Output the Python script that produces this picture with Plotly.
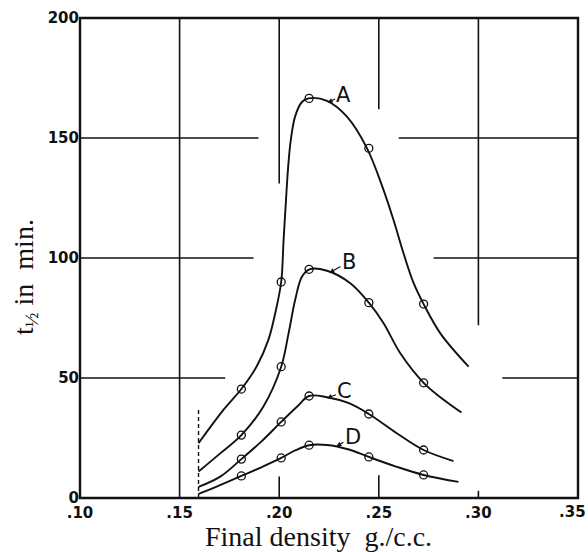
import plotly.graph_objects as go

# ---- data ----
density_pts = [0.181, 0.201, 0.215, 0.245, 0.2725]
A_pts = [45.4, 90.0, 166.5, 145.7, 80.8]
B_pts = [26.2, 54.7, 95.3, 81.4, 48.0]
C_pts = [16.2, 31.7, 42.5, 35.0, 20.0]
D_pts = [9.2, 16.7, 22.0, 17.1, 9.6]

# traced curves (incl. start/end)
A_curve_x = [0.1595, 0.172, 0.181, 0.1888, 0.1946, 0.198, 0.201, 0.2022, 0.2034, 0.2045, 0.2058, 0.208, 0.2114, 0.2147,
             0.224, 0.234, 0.2441, 0.2524, 0.2574, 0.2624, 0.2675, 0.2725, 0.2809, 0.2951]
A_curve_y = [22.8, 36.7, 45.4, 55.0, 66.0, 77.0, 90.0, 107.5, 124.0, 138.0, 149.0, 159.0, 165.0, 166.5,
             165.5, 158.9, 145.7, 128.3, 115.8, 102.0, 89.5, 80.8, 68.6, 54.7]
B_curve_x = [0.1595, 0.1704, 0.181, 0.192, 0.201, 0.2047, 0.208, 0.2114, 0.2152, 0.224, 0.2357, 0.245, 0.2524,
             0.2608, 0.2725, 0.2809, 0.2915]
B_curve_y = [11.0, 18.6, 26.2, 38.0, 54.7, 68.6, 82.5, 92.2, 95.3, 94.7, 89.5, 81.4, 72.8, 60.3, 48.0, 42.0, 35.6]
C_curve_x = [0.1595, 0.1704, 0.181, 0.191, 0.201, 0.2089, 0.215, 0.224, 0.235, 0.245, 0.259, 0.2725, 0.2875]
C_curve_y = [4.6, 8.9, 16.2, 23.5, 31.7, 38.0, 42.5, 42.0, 39.5, 35.0, 27.0, 20.0, 15.4]
D_curve_x = [0.1595, 0.170, 0.181, 0.191, 0.201, 0.208, 0.215, 0.224, 0.235, 0.245, 0.259, 0.2725, 0.290]
D_curve_y = [1.7, 5.3, 9.2, 12.8, 16.7, 19.8, 22.0, 22.1, 20.2, 17.1, 13.0, 9.6, 6.7]

curve_names = ["A", "B", "C", "D"]
label_text_pos = [(0.2325, 168.0), (0.2350, 98.5), (0.2330, 44.5), (0.2370, 25.5)]
label_tip_pos = [(0.2243, 164.8), (0.2252, 93.8), (0.2240, 41.6), (0.2287, 21.5)]

x_tickvals = [0.10, 0.15, 0.20, 0.25, 0.30]
x_ticktext = [".10", ".15", ".20", ".25", ".30"]
x_last_tick = (0.35, ".35")   # drawn as a text so it stays inside the page
y_tickvals = [0, 50, 100, 150, 200]
y_ticktext = ["0", "50", "100", "150", "200"]

INK = "#111111"
TICKFONT = dict(family="DejaVu Sans", size=15, color=INK, weight="bold")

fig = go.Figure()

curves = [(A_curve_x, A_curve_y), (B_curve_x, B_curve_y), (C_curve_x, C_curve_y), (D_curve_x, D_curve_y)]
pts = [A_pts, B_pts, C_pts, D_pts]
for name, (cx, cy), py in zip(curve_names, curves, pts):
    fig.add_trace(go.Scatter(x=cx, y=cy, mode="lines", line=dict(color=INK, width=1.9, shape="spline", smoothing=1.0),
                             showlegend=False, hoverinfo="skip"))
    fig.add_trace(go.Scatter(x=density_pts, y=py, mode="markers", name=name,
                             marker=dict(symbol="circle-open", size=8, color=INK, line=dict(width=1.3, color=INK)),
                             showlegend=False))

# partial grid lines as in the original drawing
grid_segments = [
    # vertical
    (0.15, 0, 0.15, 200),
    (0.20, 131, 0.20, 200), (0.20, 0, 0.20, 9),
    (0.25, 162, 0.25, 200), (0.25, 0, 0.25, 9.5),
    (0.30, 72, 0.30, 200), (0.30, 0, 0.30, 3),
    # horizontal
    (0.10, 150, 0.1896, 150), (0.260, 150, 0.35, 150),
    (0.10, 100, 0.1871, 100), (0.2775, 100, 0.35, 100),
    (0.10, 50, 0.1729, 50), (0.312, 50, 0.35, 50),
]
shapes = []
for x0, y0, x1, y1 in grid_segments:
    shapes.append(dict(type="line", xref="x", yref="y", x0=x0, y0=y0, x1=x1, y1=y1,
                       line=dict(color=INK, width=1.6), layer="below"))
# dashed start line
shapes.append(dict(type="line", xref="x", yref="y", x0=0.1595, y0=0, x1=0.1595, y1=37,
                   line=dict(color=INK, width=1.4, dash="4px,3px")))
# frame
shapes.append(dict(type="rect", xref="paper", yref="paper", x0=0, y0=0, x1=1, y1=1,
                   line=dict(color=INK, width=2.4)))

annotations = []
for name, (tx, ty), (hx, hy) in zip(curve_names, label_text_pos, label_tip_pos):
    annotations.append(dict(x=hx, y=hy, ax=tx, ay=ty, axref="x", ayref="y", xref="x", yref="y",
                            text=name, showarrow=True, arrowhead=2, arrowsize=0.9, arrowwidth=1.1,
                            arrowcolor=INK, standoff=0, startstandoff=0,
                            font=dict(family="DejaVu Sans", size=21, color=INK)))

annotations.append(dict(xref="x", yref="paper", x=x_last_tick[0], y=0, xanchor="right", yanchor="top",
                        xshift=10, yshift=-3, text=x_last_tick[1], showarrow=False, font=TICKFONT))
annotations.append(dict(xref="paper", yref="paper", x=0.478, y=-0.081, xanchor="center", yanchor="middle",
                        text="Final density  g./c.c.", showarrow=False,
                        font=dict(family="Liberation Serif", size=28, color=INK)))
annotations.append(dict(xref="paper", yref="paper", x=-0.111, y=0.46, xanchor="center", yanchor="middle",
                        text="t<sub>½</sub> in  min.", textangle=-90, showarrow=False,
                        font=dict(family="Liberation Serif", size=28, color=INK)))

fig.update_layout(
    width=588, height=552,
    margin=dict(l=80, r=10, t=18, b=54),
    paper_bgcolor="white", plot_bgcolor="white",
    shapes=shapes, annotations=annotations,
    xaxis=dict(range=[0.10, 0.35], tickvals=x_tickvals, ticktext=x_ticktext, showgrid=False,
               zeroline=False, showline=False, ticks="", ticklabelstandoff=4,
               automargin=False, tickfont=TICKFONT),
    yaxis=dict(range=[0, 200], tickvals=y_tickvals, ticktext=y_ticktext, showgrid=False,
               zeroline=False, showline=False, ticks="", automargin=False, tickfont=TICKFONT),
)

fig.write_html("out.html", config={"displayModeBar": False},
               post_script="document.body.style.margin='0px';document.body.style.padding='0px';")
